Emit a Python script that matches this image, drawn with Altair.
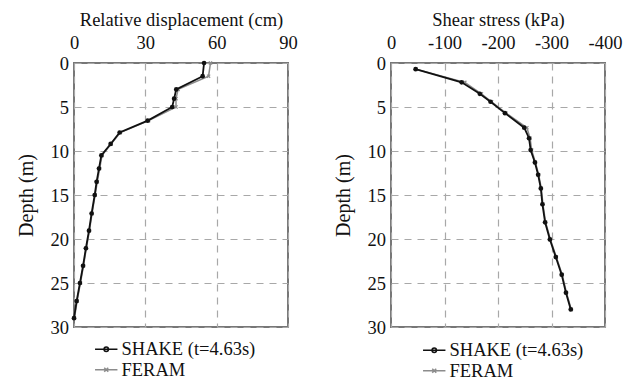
import altair as alt
import pandas as pd

# ---- data ----
disp_depth = [0, 1.5, 3.0, 4.05, 5.0, 6.55, 7.9, 9.2, 10.5, 12.0, 13.5, 15.0,
              17.1, 19.05, 21.05, 23.05, 25.0, 27.05, 29.0]
disp_shake = [54.7, 54.1, 43.0, 42.1, 41.3, 31.0, 19.2, 15.4, 11.5, 10.5, 9.5, 8.7,
              7.4, 6.3, 5.0, 3.8, 2.5, 1.1, 0.0]
disp_feram = [57.4, 56.6, 43.8, 42.9, 42.9, 31.4, 19.5, 15.6, 11.8, 10.8, 9.8, 8.9,
              7.6, 6.5, 5.2, 4.0, 2.7, 1.3, 0.2]

stress_depth = [0.7, 2.2, 3.5, 4.4, 5.7, 7.35, 8.55, 9.9, 11.3, 12.7, 14.25, 16.05,
                18.1, 20.05, 22.05, 24.05, 26.1, 28.0]
stress_shake = [-46, -132, -166, -186, -213, -249, -258, -261, -269, -275, -280, -283,
                -288, -297, -308, -319, -327, -336]
stress_feram = [-47, -138, -169, -188, -215, -254, -260, -263, -270, -276, -281, -284,
                -289, -298, -309, -320, -328, -337]

series_names = ["SHAKE (t=4.63s)", "FERAM"]
series_colors = ["#111111", "#8c8c8c"]

disp_ticks = [0, 30, 60, 90]
stress_ticks = [0, -100, -200, -300, -400]
depth_ticks = [0, 5, 10, 15, 20, 25, 30]

FONT = "Liberation Serif, Times New Roman, serif"
GRID = "#a8a8a8"
FRAME = "#777777"

legend_paths = [
    "M-1.4,0H1.4M-0.28,0A0.28,0.28,0,1,1,0.28,0A0.28,0.28,0,1,1,-0.28,0",
    "M-1.4,0H1.4M-0.25,-0.25L0.25,0.25M-0.25,0.25L0.25,-0.25",
]
x_marker = "M-1,-1L1,1M-1,1L1,-1"


def make_df(depth, a, b):
    rows = []
    for d, v in zip(depth, a):
        rows.append({"depth": d, "value": v, "series": series_names[0]})
    for d, v in zip(depth, b):
        rows.append({"depth": d, "value": v, "series": series_names[1]})
    return pd.DataFrame(rows)


def panel(df, domain, ticks, title, label_expr, lx, ly):
    xenc = alt.X("value:Q",
                 scale=alt.Scale(domain=domain, nice=False, zero=False),
                 axis=alt.Axis(orient="top", values=ticks, title=title,
                               labelFlush=False, labelExpr=label_expr,
                               grid=True, gridDash=[7, 6], gridColor=GRID,
                               gridWidth=1.2, domain=False, ticks=False,
                               tickSize=0, labelPadding=11, titlePadding=4,
                               labelFont=FONT, titleFont=FONT,
                               labelColor="#111", titleColor="#111",
                               titleFontWeight="normal",
                               labelFontSize=18.5, titleFontSize=18.5))
    yenc = alt.Y("depth:Q",
                 scale=alt.Scale(domain=[0, 30], reverse=True, nice=False),
                 axis=alt.Axis(values=depth_ticks, title="Depth (m)",
                               grid=True, gridDash=[7, 6], gridColor=GRID,
                               gridWidth=1.2, domain=False, ticks=False,
                               tickSize=0, labelPadding=5.5, titlePadding=14,
                               labelFont=FONT, titleFont=FONT,
                               labelColor="#111", titleColor="#111",
                               titleFontWeight="normal",
                               labelFontSize=18.5, titleFontSize=20))
    base = alt.Chart(df).encode(x=xenc, y=yenc, order="depth:Q")

    feram_line = base.transform_filter(alt.datum.series == series_names[1]).mark_line(
        color=series_colors[1], strokeWidth=1.5)
    feram_pts = base.transform_filter(alt.datum.series == series_names[1]).mark_point(
        shape=x_marker, size=10, color=series_colors[1], strokeWidth=1.2,
        filled=False, opacity=1)
    shake_line = base.transform_filter(alt.datum.series == series_names[0]).mark_line(
        color=series_colors[0], strokeWidth=1.8)
    shake_pts = base.transform_filter(alt.datum.series == series_names[0]).mark_point(
        shape="circle", size=22, color=series_colors[0], filled=True, opacity=1)

    leg = alt.Legend(title=None, orient="none", legendX=lx, legendY=ly,
                     symbolSize=256, symbolStrokeWidth=1.5, labelFont=FONT,
                     labelFontSize=18.5, labelColor="#111", labelOffset=6,
                     rowPadding=1.5, padding=0)
    legend_layer = alt.Chart(df).transform_filter(alt.datum.depth < -1000).mark_point(
        filled=False, strokeWidth=1.5, opacity=1).encode(
        color=alt.Color("series:N",
                        scale=alt.Scale(domain=series_names, range=series_colors),
                        legend=leg),
        shape=alt.Shape("series:N",
                        scale=alt.Scale(domain=series_names, range=legend_paths),
                        legend=leg),
    )
    return alt.layer(feram_line, feram_pts, shake_line, shake_pts, legend_layer).properties(
        width=214, height=264,
        view=alt.ViewBackground(stroke=FRAME, strokeWidth=2))


left = panel(make_df(disp_depth, disp_shake, disp_feram), [0, 90], disp_ticks,
             "Relative displacement (cm)", "datum.label", 23, 277)
right = panel(make_df(stress_depth, stress_shake, stress_feram), [0, -400], stress_ticks,
              "Shear stress (kPa)",
              "datum.value == 0 ? '0' : '-' + abs(datum.value)", 34, 278)

chart = alt.hconcat(left, right, spacing=33).resolve_scale(
    color="independent", shape="independent").resolve_legend(
    color="independent", shape="independent").properties(
    padding={"left": 7, "top": 1, "right": 0, "bottom": 0},
    background="white"
).configure_view(stroke=FRAME, strokeWidth=2)

chart.save("out.html", embed_options={"renderer": "svg", "actions": False})
